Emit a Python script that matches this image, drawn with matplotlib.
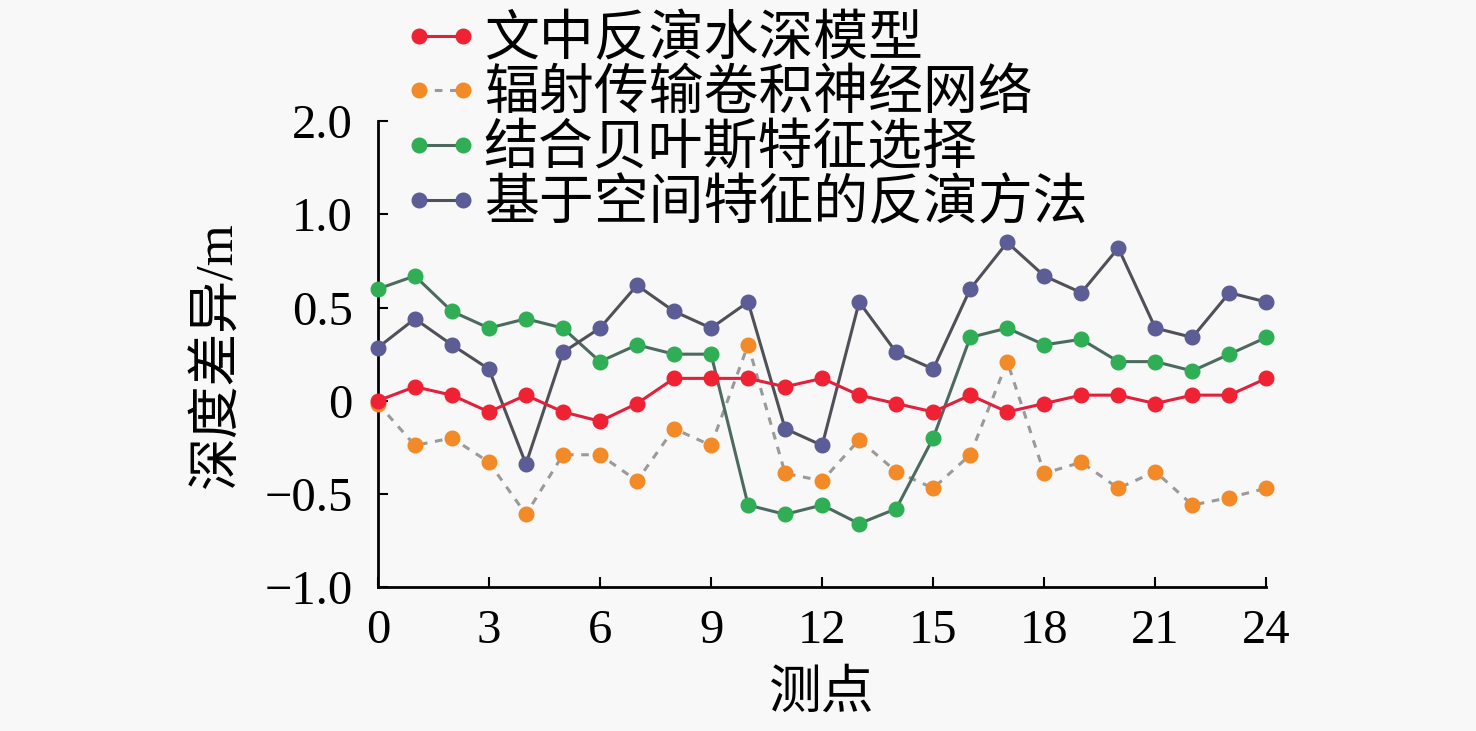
import matplotlib
matplotlib.use('Agg')
import matplotlib.pyplot as plt

plt.rcParams['font.family'] = ['Liberation Serif', 'Noto Sans CJK SC']
plt.rcParams['axes.unicode_minus'] = True

# measurement points
points = list(range(25))

# series values (m)
ours = [0.0, 0.075, 0.03, -0.06, 0.03, -0.06, -0.11, -0.015, 0.12, 0.12, 0.12, 0.075, 0.12,
        0.03, -0.015, -0.06, 0.03, -0.06, -0.015, 0.03, 0.03, -0.015, 0.03, 0.03, 0.12]
rtcnn = [-0.015, -0.24, -0.2, -0.33, -0.61, -0.29, -0.29, -0.43, -0.15, -0.24, 0.30, -0.39, -0.43,
         -0.21, -0.38, -0.47, -0.29, 0.21, -0.39, -0.33, -0.47, -0.38, -0.56, -0.52, -0.47]
bayes = [0.60, 0.67, 0.48, 0.39, 0.44, 0.39, 0.21, 0.30, 0.25, 0.25, -0.56, -0.61, -0.56,
         -0.66, -0.58, -0.2, 0.34, 0.39, 0.30, 0.33, 0.21, 0.21, 0.16, 0.25, 0.34]
spatial = [0.285, 0.44, 0.30, 0.17, -0.34, 0.26, 0.39, 0.62, 0.48, 0.39, 0.53, -0.15, -0.24,
           0.53, 0.26, 0.17, 0.60, 0.85, 0.67, 0.58, 0.82, 0.39, 0.34, 0.58, 0.53]

labels = ['文中反演水深模型', '辐射传输卷积神经网络', '结合贝叶斯特征选择', '基于空间特征的反演方法']

y_ticks = [-1.0, -0.5, 0, 0.5, 1.0, 1.5]
y_tick_labels = ['\u22121.0', '\u22120.5', '0', '0.5', '1.0', '2.0']
x_ticks = list(range(0, 25, 3))

BG = '#f8f8f8'

fig = plt.figure(figsize=(14.76, 7.31), dpi=100, facecolor=BG)
ax = fig.add_axes([0.256, 0.197, 0.602, 0.637], facecolor=BG)

common = dict(marker='o', markersize=10.5, linewidth=2.2, clip_on=False)
ax.plot(points, ours, color='#e0203c', markerfacecolor='#ee2233', markeredgecolor='#ee2233',
        label=labels[0], zorder=5, **common)
ax.plot(points, rtcnn, color='#9a9a9a', linestyle=(0, (2.5, 2.5)), markerfacecolor='#f28a28',
        markeredgecolor='#f28a28', label=labels[1], zorder=3, **common)
ax.plot(points, bayes, color='#4d6a60', markerfacecolor='#2fae55', markeredgecolor='#2fae55',
        label=labels[2], zorder=4, **common)
ax.plot(points, spatial, color='#505058', markerfacecolor='#5c5c96', markeredgecolor='#5c5c96',
        label=labels[3], zorder=4, **common)

ax.set_xlim(0, 24)
ax.set_ylim(-1.0, 1.5)
ax.set_xticks(x_ticks)
ax.set_yticks(y_ticks)
ax.set_yticklabels(y_tick_labels)
ax.tick_params(direction='in', length=7, width=1.5, labelsize=35)
ax.tick_params(axis='x', pad=16)
ax.tick_params(axis='y', pad=18)

for side in ['top', 'right']:
    ax.spines[side].set_visible(False)
for side in ['left', 'bottom']:
    ax.spines[side].set_linewidth(2)

ax.set_xlabel('测点', fontsize=38, labelpad=12)
ax.set_ylabel('深度差异/m', fontsize=38, labelpad=16)

fig.legend(loc='upper left', bbox_to_anchor=(0.269, 0.986), frameon=False, fontsize=39.5,
           numpoints=2, handlelength=1.4, handletextpad=0.08, labelspacing=0.06,
           borderpad=0.1, borderaxespad=0.0)

fig.savefig('out.png', dpi=100, facecolor=BG)
